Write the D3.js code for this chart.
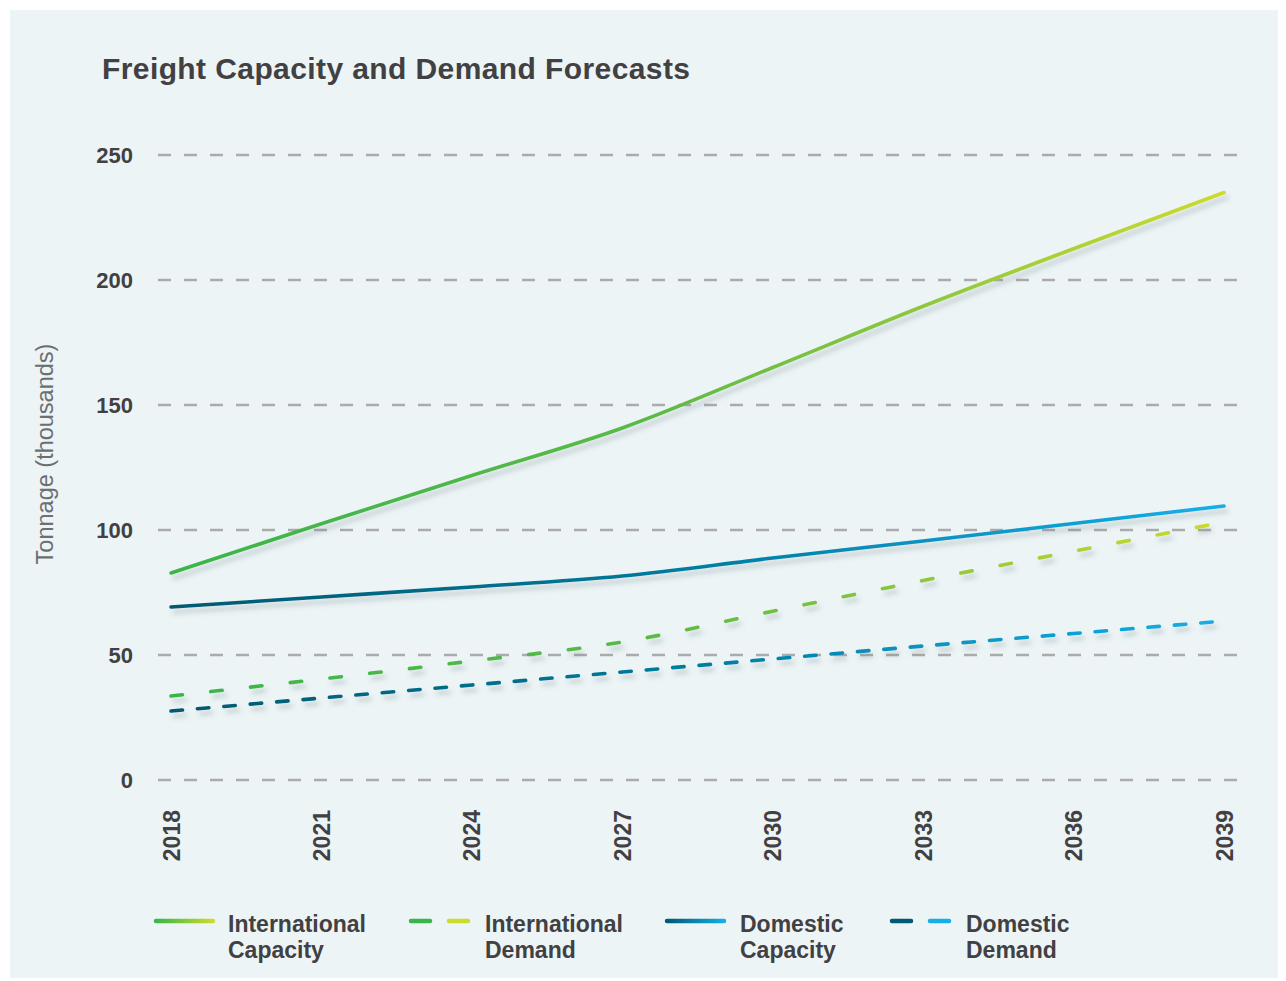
<!DOCTYPE html>
<html>
<head>
<meta charset="utf-8">
<script src="https://cdn.jsdelivr.net/npm/d3@7"></script>
<style>
  html, body { margin: 0; padding: 0; background: #ffffff; }
  svg { display: block; }
  text { font-family: "Liberation Sans", Arial, Helvetica, sans-serif; }
</style>
</head>
<body>
<div id="chart"></div>
<script>
// ---- Data ----
const years = [2018, 2021, 2024, 2027, 2030, 2033, 2036, 2039];
const intlCapacity = [82.8, 102.5, 121.8, 140.8, 165.0, 189.5, 212.5, 235.0];
const intlDemand = [33.6, 40.4, 47.6, 55.2, 67.5, 79.8, 91.5, 103.2];
const domCapacity = [69.2, 73.2, 77.2, 81.6, 88.8, 95.6, 102.6, 109.6];
const domDemand = [27.6, 32.8, 38.0, 43.2, 48.4, 53.6, 58.6, 63.6];
const yTicks = [0, 50, 100, 150, 200, 250];
const xTicks = [2018, 2021, 2024, 2027, 2030, 2033, 2036, 2039];
const seriesNames = ["International Capacity", "International Demand", "Domestic Capacity", "Domestic Demand"];

// ---- Setup ----
const W = 1286, H = 981;
const svg = d3.select("#chart").append("svg").attr("width", W).attr("height", H);

svg.append("rect").attr("x", 10).attr("y", 10).attr("width", 1268).attr("height", 968).attr("fill", "#ECF4F6");

const x = d3.scaleLinear().domain([2018, 2039]).range([171, 1224]);
const y = d3.scaleLinear().domain([0, 250]).range([780, 155]);

const defs = svg.append("defs");
const f = defs.append("filter").attr("id", "shadow").attr("x", "-5%").attr("y", "-20%").attr("width", "110%").attr("height", "140%");
f.append("feDropShadow").attr("dx", 3).attr("dy", 5).attr("stdDeviation", 2.5)
  .attr("flood-color", "#5f7278").attr("flood-opacity", 0.3);

function grad(id, stops, x1, x2) {
  const g = defs.append("linearGradient").attr("id", id)
    .attr("gradientUnits", "userSpaceOnUse")
    .attr("x1", x1).attr("x2", x2).attr("y1", 0).attr("y2", 0);
  stops.forEach(s => g.append("stop").attr("offset", s[0]).attr("stop-color", s[1]));
}
grad("gIntlCap", [[0, "#3AB54A"], [0.45, "#5BB947"], [0.7, "#8CC63F"], [1, "#CDDB2A"]], x(2018), x(2039));
grad("gIntlDem", [[0, "#3AB54A"], [0.45, "#5BB947"], [0.7, "#8CC63F"], [1, "#CDDB2A"]], x(2018), x(2039));
grad("gDomCap", [[0, "#005A72"], [0.45, "#00789A"], [1, "#14AEE8"]], x(2018), x(2039));
grad("gDomDem", [[0, "#005A72"], [0.45, "#00789A"], [1, "#14AEE8"]], x(2018), x(2039));

// ---- Title ----
svg.append("text").attr("x", 102).attr("y", 79)
  .attr("font-size", 30).attr("font-weight", "bold").attr("fill", "#414042")
  .attr("textLength", 588).attr("lengthAdjust", "spacing")
  .text("Freight Capacity and Demand Forecasts");

// ---- Grid ----
const grid = svg.append("g");
grid.selectAll("line").data(yTicks).join("line")
  .attr("x1", 158).attr("x2", 1240)
  .attr("y1", d => y(d)).attr("y2", d => y(d))
  .attr("stroke", "#ABABAB").attr("stroke-width", 2.5)
  .attr("stroke-dasharray", "13,13");

// ---- Y axis ----
const yAxis = svg.append("g").attr("transform", "translate(133,0)")
  .call(d3.axisLeft(y).tickValues(yTicks).tickSize(0).tickPadding(0));
yAxis.select(".domain").remove();
yAxis.selectAll("text").attr("font-size", 22).attr("font-weight", "bold").attr("fill", "#414042")
  .attr("font-family", "Liberation Sans, Arial, sans-serif");

svg.append("text")
  .attr("transform", "translate(53,454) rotate(-90)")
  .attr("text-anchor", "middle")
  .attr("font-size", 23.5).attr("fill", "#6D6E71")
  .text("Tonnage (thousands)");

// ---- X axis ----
const xAxis = svg.append("g").attr("transform", "translate(0,810)")
  .call(d3.axisBottom(x).tickValues(xTicks).tickFormat(d3.format("d")).tickSize(0).tickPadding(0));
xAxis.select(".domain").remove();
xAxis.selectAll(".tick text")
  .attr("font-size", 23).attr("font-weight", "bold").attr("fill", "#414042")
  .attr("font-family", "Liberation Sans, Arial, sans-serif")
  .attr("text-anchor", "end").attr("dy", "0.35em").attr("y", 0).attr("x", 0)
  .attr("transform", "rotate(-90)");

// ---- Lines ----
const line = d3.line().x(d => x(d[0])).y(d => y(d[1])).curve(d3.curveMonotoneX);
const series = [
  { vals: intlCapacity, stroke: "url(#gIntlCap)", dash: null },
  { vals: domCapacity, stroke: "url(#gDomCap)", dash: null },
  { vals: intlDemand, stroke: "url(#gIntlDem)", dash: "11.5,28.5" },
  { vals: domDemand, stroke: "url(#gDomDem)", dash: "11.5,15" }
];
const lg = svg.append("g").attr("filter", "url(#shadow)");
series.forEach(s => {
  lg.append("path")
    .datum(years.map((yr, i) => [yr, s.vals[i]]))
    .attr("d", line)
    .attr("fill", "none")
    .attr("stroke", s.stroke)
    .attr("stroke-width", 3.6)
    .attr("stroke-linecap", "round")
    .attr("stroke-dasharray", s.dash);
});

// ---- Legend ----
const legendItems = [
  { name: seriesNames[0], lx: 156, tx: 228, type: "solid", c1: "#3AB54A", c2: "#CDDB2A" },
  { name: seriesNames[1], lx: 411, tx: 485, type: "dash", c1: "#3AB54A", c2: "#CDDB2A" },
  { name: seriesNames[2], lx: 667, tx: 740, type: "solid", c1: "#005A72", c2: "#14AEE8" },
  { name: seriesNames[3], lx: 892, tx: 966, type: "dash", c1: "#005A72", c2: "#14AEE8" }
];
const leg = svg.append("g");
legendItems.forEach((it, i) => {
  const ly = 921;
  if (it.type === "solid") {
    const gid = "lg" + i;
    const g = defs.append("linearGradient").attr("id", gid)
      .attr("gradientUnits", "userSpaceOnUse").attr("x1", it.lx).attr("x2", it.lx + 57).attr("y1", 0).attr("y2", 0);
    g.append("stop").attr("offset", 0).attr("stop-color", it.c1);
    g.append("stop").attr("offset", 1).attr("stop-color", it.c2);
    leg.append("line").attr("x1", it.lx).attr("x2", it.lx + 57).attr("y1", ly).attr("y2", ly)
      .attr("stroke", `url(#${gid})`).attr("stroke-width", 4.5).attr("stroke-linecap", "round");
  } else {
    leg.append("line").attr("x1", it.lx).attr("x2", it.lx + 19).attr("y1", ly).attr("y2", ly)
      .attr("stroke", it.c1).attr("stroke-width", 4.5).attr("stroke-linecap", "round");
    leg.append("line").attr("x1", it.lx + 38).attr("x2", it.lx + 57).attr("y1", ly).attr("y2", ly)
      .attr("stroke", it.c2).attr("stroke-width", 4.5).attr("stroke-linecap", "round");
  }
  const words = it.name.split(" ");
  const t = leg.append("text").attr("x", it.tx).attr("y", 932)
    .attr("font-size", 23).attr("font-weight", "bold").attr("fill", "#414042");
  t.append("tspan").attr("x", it.tx).attr("dy", 0).text(words[0]);
  t.append("tspan").attr("x", it.tx).attr("dy", 26).text(words[1]);
});
</script>
</body>
</html>
